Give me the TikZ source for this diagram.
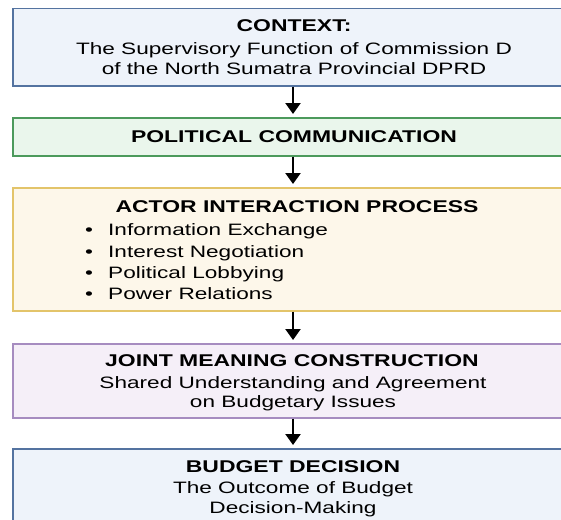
\documentclass[tikz,border=0pt]{standalone}
\usepackage{fontspec}
\setmainfont{Liberation Sans}[FakeStretch=1.37]
\newfontfamily\headfont{Liberation Sans}[FakeStretch=1.35]
\usetikzlibrary{arrows.meta}
\definecolor{bfill}{HTML}{EEF3FA}
\definecolor{bline}{HTML}{5473A0}
\definecolor{gfill}{HTML}{EAF6EC}
\definecolor{gline}{HTML}{4C9A5C}
\definecolor{yfill}{HTML}{FDF7EA}
\definecolor{yline}{HTML}{E3C46A}
\definecolor{pfill}{HTML}{F5EFF8}
\definecolor{pline}{HTML}{A68CC0}
\begin{document}
\begin{tikzpicture}[x=1pt,y=-1pt,
  box/.style={draw, line width=1.5pt, rectangle, minimum width=568pt, inner sep=0pt, anchor=north west},
  head/.style={font=\headfont\bfseries\fontsize{17}{20}\selectfont, inner sep=0pt, anchor=base},
  body/.style={font=\fontsize{16.5}{19}\selectfont, inner sep=0pt, anchor=base},
  item/.style={font=\fontsize{16.5}{19}\selectfont, inner sep=0pt, anchor=base west},
  arr/.style={-{Triangle[width=15pt,length=11pt]}, line width=2.3pt, shorten >=3pt}]
\useasboundingbox (0,0) rectangle (561,519);
\fill[white] (0,0) rectangle (561,519);
\clip (0,0) rectangle (561,519);
\coordinate (axis) at (293,0);
% boxes
\node[box, fill=bfill, draw=bline, minimum height=77pt] (b1) at (12,8) {};
\node[box, fill=gfill, draw=gline, minimum height=38pt] (b2) at (12,117) {};
\node[box, fill=yfill, draw=yline, minimum height=123pt] (b3) at (12,187) {};
\node[box, fill=pfill, draw=pline, minimum height=74pt] (b4) at (12,343) {};
\node[box, fill=bfill, draw=bline, minimum height=90pt] (b5) at (12,448) {};
% texts
\node[head] (t1h) at (294,32) {CONTEXT:};
\node[body] (t1a) at (294,54.3) {The Supervisory Function of Commission D};
\node[body] (t1b) at (294,74) {of the North Sumatra Provincial DPRD};
\node[head] (t2h) at (294,142.5) {POLITICAL COMMUNICATION};
\node[head] (t3h) at (297,212) {ACTOR INTERACTION PROCESS};
\foreach \y/\t [count=\i] in {235.7/Information Exchange, 257.7/Interest Negotiation, 278.7/Political Lobbying, 299.7/Power Relations}{
  \node[body] (d\i) at (89,\y) {•};
  \node[item] (l\i) at (108,\y) {\t};
}
\node[head] (t4h) at (292,366) {JOINT MEANING CONSTRUCTION};
\node[body] (t4a) at (293,388.7) {Shared Understanding and Agreement};
\node[body] (t4b) at (293,407.7) {on Budgetary Issues};
\node[head] (t5h) at (293,472) {BUDGET DECISION};
\node[body] (t5a) at (293,493.7) {The Outcome of Budget};
\node[body] (t5b) at (293,513.7) {Decision-Making};
% arrows
\draw[arr] (b1.south -| axis) -- (b2.north -| axis);
\draw[arr] (b2.south -| axis) -- (b3.north -| axis);
\draw[arr] (b3.south -| axis) -- (b4.north -| axis);
\draw[arr] (b4.south -| axis) -- (b5.north -| axis);
\end{tikzpicture}
\end{document}
